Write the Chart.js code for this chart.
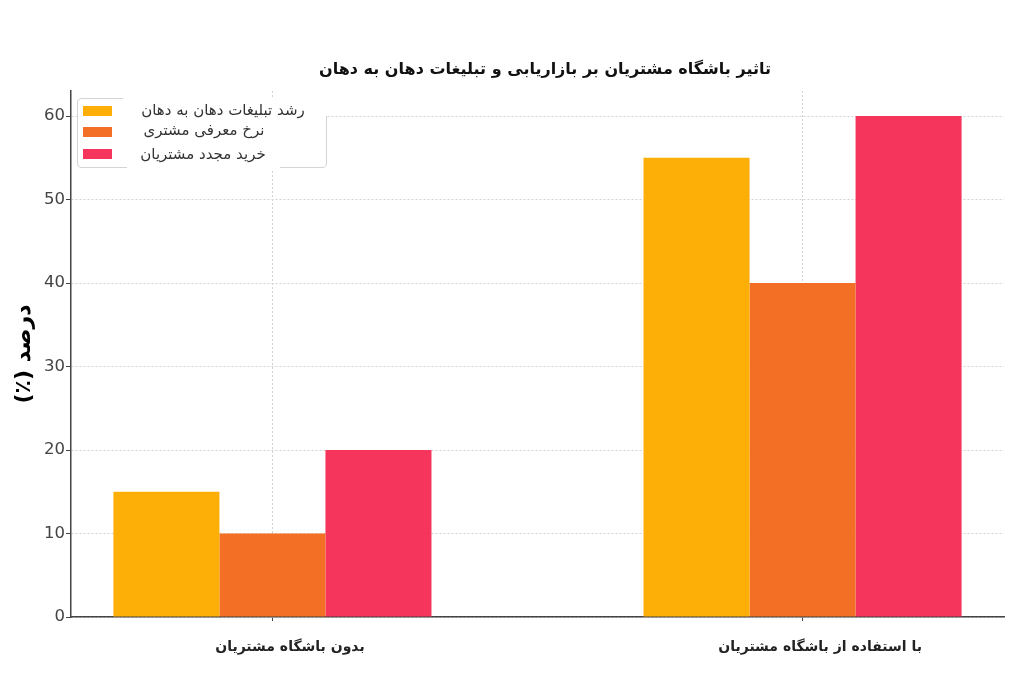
<!DOCTYPE html>
<html lang="fa">
<head>
<meta charset="utf-8">
<script src="https://cdn.jsdelivr.net/npm/chart.js@4"></script>
<style>
  body { margin: 0; background: #fff; }
  canvas { display: block; }
</style>
</head>
<body>
<canvas id="myChart" width="1024" height="683" dir="rtl"></canvas>
<script>
var categories = ['بدون باشگاه مشتریان', 'با استفاده از باشگاه مشتریان'];
var seriesNames = ['رشد تبلیغات دهان به دهان', 'نرخ معرفی مشتری', 'خرید مجدد مشتریان'];
var wordOfMouth = [15, 55];
var referralRate = [10, 40];
var repurchase = [20, 60];
var yTicks = [0, 10, 20, 30, 40, 50, 60];
var chartTitle = 'تاثیر باشگاه مشتریان بر بازاریابی و تبلیغات دهان به دهان';
var yTitle = 'درصد (٪)';

var fontName = '"DejaVu Sans", sans-serif';
// a little transparent so the grid shows faintly through the bars
var colors = ['rgba(253,172,0,0.97)', 'rgba(242,106,30,0.97)', 'rgba(245,46,87,0.97)'];

function points(values) {
  return values.map(function (v, i) { return { x: i, y: v }; });
}

// the title sits right of the plot centre in the reference
var titleShift = {
  id: 'titleShift',
  afterLayout: function (chart) { chart.titleBlock.left = 86; }
};

// legend is drawn by hand: the reference has it inside the plot, with a patched frame
var legendBox = {
  id: 'legendBox',
  afterDraw: function (chart) {
    var c = chart.ctx;
    var rowsText = [111, 131, 155];
    var rowsBox = [111, 132, 154];
    var textCenter = [223, 204, 203];
    c.save();
    c.fillStyle = '#fff';
    c.fillRect(77, 97, 250, 72);
    c.strokeStyle = '#d4d4d4';
    c.lineWidth = 1;
    c.beginPath();
    c.moveTo(123, 98.5); c.lineTo(82, 98.5); c.quadraticCurveTo(77.5, 98.5, 77.5, 103);
    c.lineTo(77.5, 163); c.quadraticCurveTo(77.5, 167.5, 82, 167.5); c.lineTo(127, 167.5);
    c.moveTo(280, 167.5); c.lineTo(322, 167.5); c.quadraticCurveTo(326.5, 167.5, 326.5, 163);
    c.lineTo(326.5, 116);
    c.stroke();
    c.font = '15px ' + fontName;
    c.textAlign = 'center';
    c.textBaseline = 'middle';
    chart.data.datasets.forEach(function (ds, i) {
      c.fillStyle = ds.backgroundColor;
      c.fillRect(83, rowsBox[i] - 5, 29, 10);
      c.fillStyle = '#333';
      c.fillText(ds.label, textCenter[i], rowsText[i]);
    });
    c.restore();
  }
};

new Chart(document.getElementById('myChart'), {
  type: 'bar',
  data: {
    datasets: [
      { label: seriesNames[0], data: points(wordOfMouth), backgroundColor: colors[0] },
      { label: seriesNames[1], data: points(referralRate), backgroundColor: colors[1] },
      { label: seriesNames[2], data: points(repurchase), backgroundColor: colors[2] }
    ]
  },
  options: {
    responsive: false,
    animation: false,
    layout: { padding: { right: 20 } },
    datasets: { bar: { categoryPercentage: 0.6, barPercentage: 1 } },
    plugins: {
      legend: { display: false },
      tooltip: { enabled: false },
      title: {
        display: true,
        text: chartTitle,
        color: '#111',
        font: { family: fontName, size: 16, weight: 'bold', lineHeight: 1.2 },
        padding: { top: 60, bottom: 11.8 }
      }
    },
    scales: {
      x: {
        type: 'linear',
        offset: false,
        min: -0.38,
        max: 1.38,
        afterBuildTicks: function (scale) {
          scale.ticks = categories.map(function (c, i) { return { value: i }; });
        },
        afterFit: function (scale) { scale.height = 66; },
        grid: { offset: false, color: '#d2d2d2', tickColor: '#444', tickLength: 4, drawTicks: true },
        border: { color: '#444', width: 1.5, dash: [2, 2] },
        ticks: {
          autoSkip: false,
          maxRotation: 0,
          padding: 18,
          labelOffset: 17.5,
          color: '#222',
          font: { family: fontName, size: 14, weight: 'bold' },
          callback: function (v) { return categories[v]; }
        }
      },
      y: {
        min: 0,
        max: 63,
        afterBuildTicks: function (scale) {
          scale.ticks = yTicks.map(function (v) { return { value: v }; });
        },
        afterFit: function (scale) { scale.width = 71; },
        grid: { color: '#d2d2d2', tickColor: '#444', tickLength: 5 },
        border: { color: '#444', width: 1.5, dash: [2, 2] },
        ticks: {
          padding: 1,
          color: '#444',
          font: { family: fontName, size: 16.5 }
        },
        title: {
          display: true,
          text: yTitle,
          color: '#000',
          font: { family: fontName, size: 22, weight: 'bold' },
          padding: { top: 11, bottom: 0 }
        }
      }
    }
  },
  plugins: [titleShift, legendBox]
});
</script>
</body>
</html>
